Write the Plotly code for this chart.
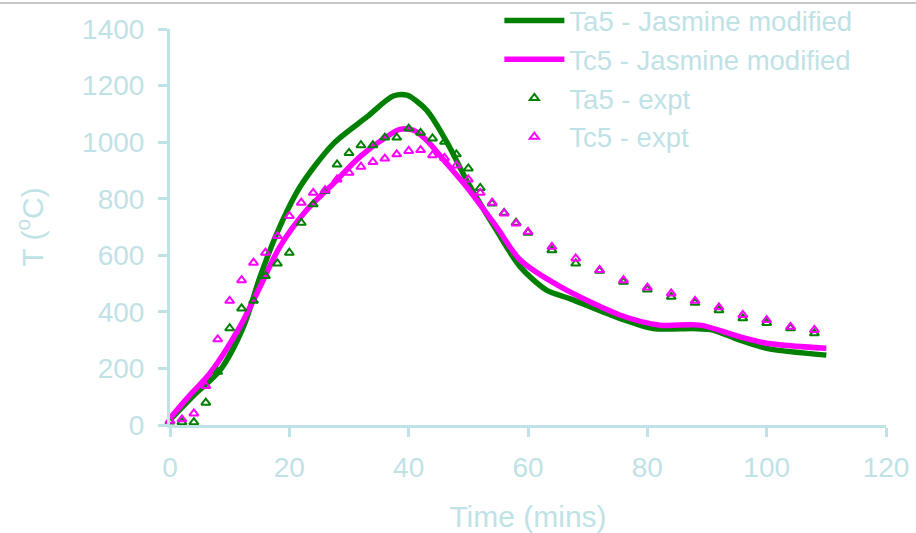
import plotly.graph_objects as go

# Model curves (Jasmine modified)
ta5_model_t = [0, 4, 8.4, 12.3, 15.1, 17.9, 21.8, 27.4, 33, 37.4, 39.7, 43, 46.4, 49.7, 54.7, 58.7, 63.1, 67, 75.4, 81, 87.7, 91, 95.5, 100, 110]
ta5_model_T = [18, 105, 194, 347, 524, 677, 842, 995, 1089, 1163, 1166, 1113, 1000, 866, 689, 559, 477, 447, 377, 341, 341, 336, 300, 271, 247]

tc5_model_t = [0, 3.3, 6.7, 11.7, 15.1, 18.4, 22.9, 27.4, 31.8, 36.3, 38.5, 40.8, 43, 46.4, 49.7, 54.7, 58.7, 65.4, 75.4, 82.1, 88.8, 95.5, 100, 110]
tc5_model_T = [24, 105, 183, 347, 489, 630, 760, 854, 948, 1019, 1045, 1042, 1007, 924, 842, 701, 583, 489, 389, 353, 353, 312, 289, 271]

# Experimental data
expt_t = [0, 2, 4, 6, 8, 10, 12, 14, 16, 18, 20, 22, 24, 26, 28, 30, 32, 34, 36, 38, 40,
          42, 44, 46, 48, 50, 52, 54, 56, 58, 60, 64, 68, 72, 76, 80, 84, 88, 92, 96, 100, 104, 108]
ta5_expt = [12, 10, 10, 79, 188, 342, 412, 439, 527, 571, 609, 715, 780, 827, 921, 962, 989, 989, 1016, 1016, 1048,
            1033, 1013, 1001, 957, 907, 838, 783, 750, 715, 680, 618, 571, 545, 506, 479, 453, 432, 406, 377, 361, 342, 324]
tc5_expt = [15, 20, 41, 138, 303, 439, 512, 574, 609, 668, 739, 786, 821, 830, 868, 892, 913, 930, 942, 957, 969,
            972, 954, 944, 917, 868, 821, 786, 748, 712, 683, 630, 589, 548, 512, 486, 465, 439, 416, 389, 371, 347, 336]

x_ticks = [0, 20, 40, 60, 80, 100, 120]
y_ticks = [0, 200, 400, 600, 800, 1000, 1200, 1400]

AX = "#bfe2e6"
FONT = "Liberation Sans, Arial, sans-serif"

fig = go.Figure()
fig.add_trace(go.Scatter(x=ta5_model_t, y=ta5_model_T, mode="lines", name="Ta5 - Jasmine modified",
                         line=dict(color="#008000", width=5.5, shape="spline", smoothing=0.8)))
fig.add_trace(go.Scatter(x=tc5_model_t, y=tc5_model_T, mode="lines", name="Tc5 - Jasmine modified",
                         line=dict(color="#ff00ff", width=5.5, shape="spline", smoothing=0.8)))
fig.add_trace(go.Scatter(x=expt_t, y=ta5_expt, mode="markers", name="Ta5 - expt", cliponaxis=False,
                         marker=dict(symbol="triangle-up-open", size=8, color="#008000", line=dict(width=2, color="#008000"))))
fig.add_trace(go.Scatter(x=expt_t, y=tc5_expt, mode="markers", name="Tc5 - expt", cliponaxis=False,
                         marker=dict(symbol="triangle-up-open", size=8, color="#ff00ff", line=dict(width=2, color="#ff00ff"))))

fig.update_layout(
    width=916, height=533,
    margin=dict(l=170, r=30, t=29, b=108, autoexpand=False),
    paper_bgcolor="white", plot_bgcolor="white",
    font=dict(family=FONT, size=29, color=AX),
    showlegend=True,
    legend=dict(x=0.46, y=(425+4)/396, xanchor="left", yanchor="top", bgcolor="rgba(0,0,0,0)",
                font=dict(size=27.5, color=AX), tracegroupgap=0, itemwidth=60),
    xaxis=dict(range=[0, 120], tickvals=x_ticks, showgrid=False, zeroline=False, automargin=False,
               showline=True, linecolor=AX, linewidth=3, ticks="outside", ticklen=9, tickwidth=3, tickcolor=AX,
               tickfont=dict(size=28, color=AX), ticklabelstandoff=6,
               title=dict(text="Time (mins)", font=dict(size=30, color=AX), standoff=27)),
    yaxis=dict(range=[0, 1400], tickvals=y_ticks, showgrid=False, zeroline=False, automargin=False,
               showline=True, linecolor=AX, linewidth=3, ticks="outside", ticklen=9, tickwidth=3, tickcolor=AX,
               tickfont=dict(size=28, color=AX), ticklabelstandoff=8,
               title=dict(text="T (<sup>o</sup>C)", font=dict(size=30, color=AX), standoff=30)),
    shapes=[dict(type="line", xref="paper", yref="paper", x0=-170/716, x1=1+30/716,
                 y0=(425-3)/396, y1=(425-3)/396, line=dict(color="#c8c8c8", width=2))],
)

fig.write_html("out.html")
